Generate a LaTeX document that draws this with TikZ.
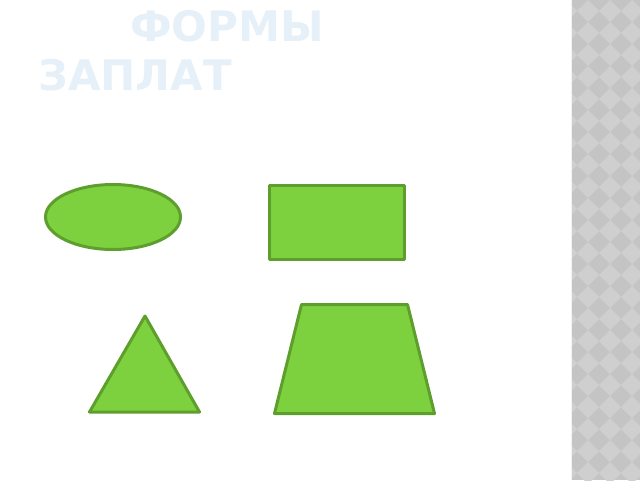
\documentclass[tikz,border=0pt]{standalone}
\usepackage{fontspec}
\setmainfont{DejaVu Sans}
\usetikzlibrary{positioning}

\definecolor{patchfill}{HTML}{7DD13F}
\definecolor{patchline}{HTML}{5E9E2C}
\definecolor{titleblue}{HTML}{E6F0F8}
\definecolor{stripdark}{HTML}{C4C4C4}
\definecolor{striplight}{HTML}{CFCFCF}

\tikzset{
  patch/.style={draw=patchline,fill=patchfill,line width=3pt,line join=round},
  titletext/.style={text=titleblue,font=\bfseries\fontsize{42}{49}\selectfont,align=left,inner sep=0pt,anchor=north west}
}

\begin{document}
\begin{tikzpicture}[x=1pt,y=-1pt]
    \useasboundingbox (0,0) rectangle (640,480);

    % title
    \node[titletext] (title) at (38,10.5) {\hspace*{92pt}ФОРМЫ\\ЗАПЛАТ};

    % side strip
    \fill[stripdark] (571,0) rectangle (640,480);
    \begin{scope}
      \clip (571,0) rectangle (640,480);
      \foreach \i in {0,...,4}
        \foreach \j in {0,...,22}
          \fill[striplight] (566+22*\i,22*\j) -- ++(11,11) -- ++(-11,11) -- ++(-11,-11) -- cycle;
    \end{scope}
    \draw[white!90!gray,line width=1pt] (571,0) -- (571,480);

    % shapes
    \draw[patch] (113,217) ellipse [x radius=67.5,y radius=32.5];
    \draw[patch] (269.5,185.5) rectangle (404.5,259.5);
    \draw[patch] (145,316) -- (199.5,412) -- (89.5,412) -- cycle;
    \draw[patch] (301.5,304.5) -- (407.5,304.5) -- (434.5,413.5) -- (274.5,413.5) -- cycle;

\end{tikzpicture}
\end{document}
